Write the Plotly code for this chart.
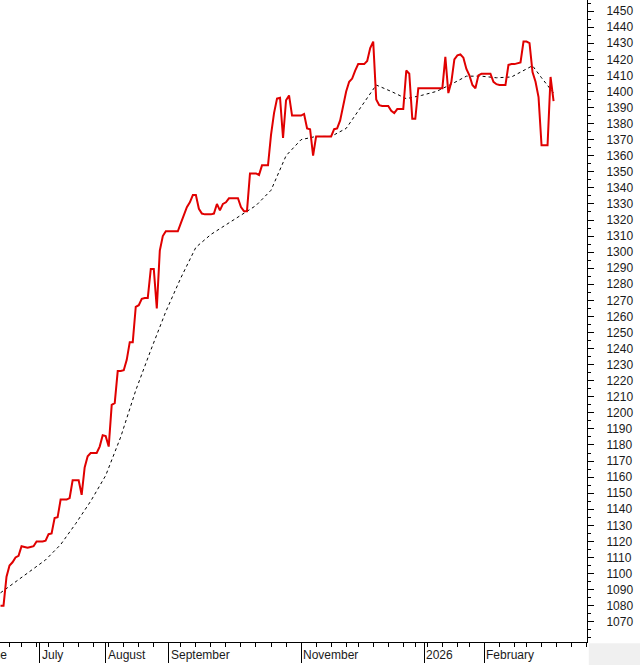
import pandas as pd
import plotly.graph_objects as go

# market holidays skipped on the axis
holidays = ["2025-06-19", "2025-07-04", "2025-09-01", "2025-11-27", "2025-12-25",
            "2026-01-01", "2026-01-19", "2026-02-16"]

# daily close, one value per trading day from 2025-06-11
price = [
    1080, 1080, 1098, 1105, 1107, 1110, 1111, 1117, 1116.5, 1116,
    1116.5, 1117, 1120, 1120, 1120, 1120.5, 1124.5, 1125, 1134.5, 1135,
    1146, 1146, 1146, 1147, 1158, 1158, 1158, 1149, 1166, 1173,
    1175, 1175, 1175, 1179, 1186, 1185.5, 1179, 1205, 1206, 1226,
    1226, 1226.5, 1233, 1244, 1244, 1266, 1267, 1271, 1271.5, 1271.5,
    1289.5, 1289.5, 1265, 1301, 1310, 1313, 1313, 1313, 1313, 1313,
    1318, 1323, 1328, 1331, 1335.5, 1335.5, 1327, 1324, 1323.5, 1323.5,
    1323.5, 1324, 1330, 1326, 1330, 1331, 1333.5, 1333.5, 1333.5, 1333.5,
    1328, 1325.5, 1325.5, 1349, 1349, 1349, 1348, 1354, 1354, 1354,
    1373, 1386.5, 1395.5, 1396, 1371, 1394.5, 1397.5, 1385, 1385, 1385,
    1385, 1386, 1377, 1376.5, 1360, 1372, 1372, 1372, 1372, 1372,
    1372, 1376.5, 1377, 1382, 1391.5, 1400, 1406, 1408, 1413, 1417,
    1417, 1417, 1419, 1427, 1431, 1395, 1391.5, 1391, 1391, 1391,
    1388, 1386.5, 1389, 1389, 1389, 1413, 1411, 1383, 1383, 1402,
    1402, 1402, 1402, 1402, 1402, 1402, 1402, 1402, 1421.5, 1399,
    1406, 1420, 1422.5, 1423, 1421, 1414, 1410, 1404, 1402, 1410,
    1411, 1411, 1411, 1411, 1406, 1404.5, 1404, 1404, 1404, 1416.5,
    1417, 1417, 1417.5, 1418, 1431, 1431, 1430, 1412, 1406, 1396.5,
    1366.5, 1366.5, 1366.5, 1409, 1394,
]

# moving average, read at these trading-day positions
ma_pos = [0, 5, 10, 15, 20, 25, 30, 35, 40, 45, 50, 55, 60, 65, 70, 75, 80, 85,
          90, 95, 100, 105, 110, 115, 120, 125, 130, 135, 140, 145, 150, 155,
          160, 165, 170, 175, 177, 180, 184]
ma = [1088, 1095, 1102, 1108.5, 1118, 1131, 1145, 1161, 1185, 1214, 1239, 1263,
      1284, 1303, 1311, 1317, 1322.5, 1329, 1338.5, 1360, 1370, 1372, 1372, 1377,
      1390.5, 1404, 1400, 1395.5, 1397.5, 1400, 1404.5, 1409.5, 1409.5, 1408.5,
      1409, 1414, 1416, 1408.5, 1399]

month_labels = ["July", "August", "September", "November", "2026", "February"]
month_dates = ["2025-07-01", "2025-08-01", "2025-09-02", "2025-11-03",
               "2026-01-02", "2026-02-02"]

y_ticks = list(range(1070, 1451, 10))

dates = pd.bdate_range("2025-06-11", periods=len(price), freq="C", holidays=holidays)
ma_dates = [dates[i] for i in ma_pos]

# weekly minor ticks: first trading day of each week
cal = pd.bdate_range("2025-06-02", "2026-03-31", freq="C", holidays=holidays)
week_ticks = [d for i, d in enumerate(cal) if i == 0 or d.weekday() < cal[i - 1].weekday()]

font = dict(family="Arial, Liberation Sans, sans-serif", size=12, color="#1a1a1a")

fig = go.Figure()
fig.add_trace(go.Scatter(x=ma_dates, y=ma, mode="lines",
                         line=dict(color="black", width=1, dash="3px,3px")))
fig.add_trace(go.Scatter(x=dates, y=price, mode="lines",
                         line=dict(color="#e00000", width=2)))

for lab, d in zip(month_labels, month_dates):
    fig.add_annotation(x=d, xref="x", y=0, yref="paper", text=lab, showarrow=False,
                       xanchor="left", yanchor="top", xshift=0, yshift=-4, font=font)
# June starts before the visible range, only its tail shows at the left edge
fig.add_annotation(x=0, xref="paper", y=0, yref="paper", text="June", showarrow=False,
                   xanchor="right", yanchor="top", xshift=9, yshift=-4, font=font)

fig.add_shape(type="rect", xref="paper", yref="paper", x0=1.003, x1=1.2, y0=-0.2, y1=-0.002,
              fillcolor="#f0f0f0", line_width=0)

fig.update_layout(
    width=640, height=665,
    margin=dict(l=0, r=53, t=0, b=23),
    paper_bgcolor="white", plot_bgcolor="white",
    showlegend=False,
    font=font,
)
fig.update_xaxes(
    type="date",
    range=["2025-06-10 20:00", "2026-03-23 03:00"],
    rangebreaks=[dict(bounds=["sat", "mon"]), dict(values=holidays)],
    showline=True, linecolor="black", linewidth=1,
    showgrid=False, zeroline=False,
    tickmode="array", tickvals=month_dates, showticklabels=False,
    ticks="outside", ticklen=20, tickcolor="black",
    minor=dict(ticks="outside", ticklen=4, tickcolor="black", tickvals=week_ticks, showgrid=False),
)
fig.update_yaxes(
    side="right",
    range=[1057.4, 1456.9],
    showline=True, linecolor="black", linewidth=1,
    showgrid=False, zeroline=False,
    tickmode="array", tickvals=y_ticks, ticktext=[str(v) for v in y_ticks],
    ticks="outside", ticklen=6, tickcolor="black",
    ticklabelstandoff=10,
    minor=dict(ticks="outside", ticklen=3, tickcolor="black", dtick=5, tick0=1060, showgrid=False),
    tickfont=font,
)

# the page body has a default 8px margin; drop it so the chart fills the window
fig.write_html("out.html", config={"displayModeBar": False},
               post_script="document.body.style.margin='0';document.body.style.overflow='hidden';")
